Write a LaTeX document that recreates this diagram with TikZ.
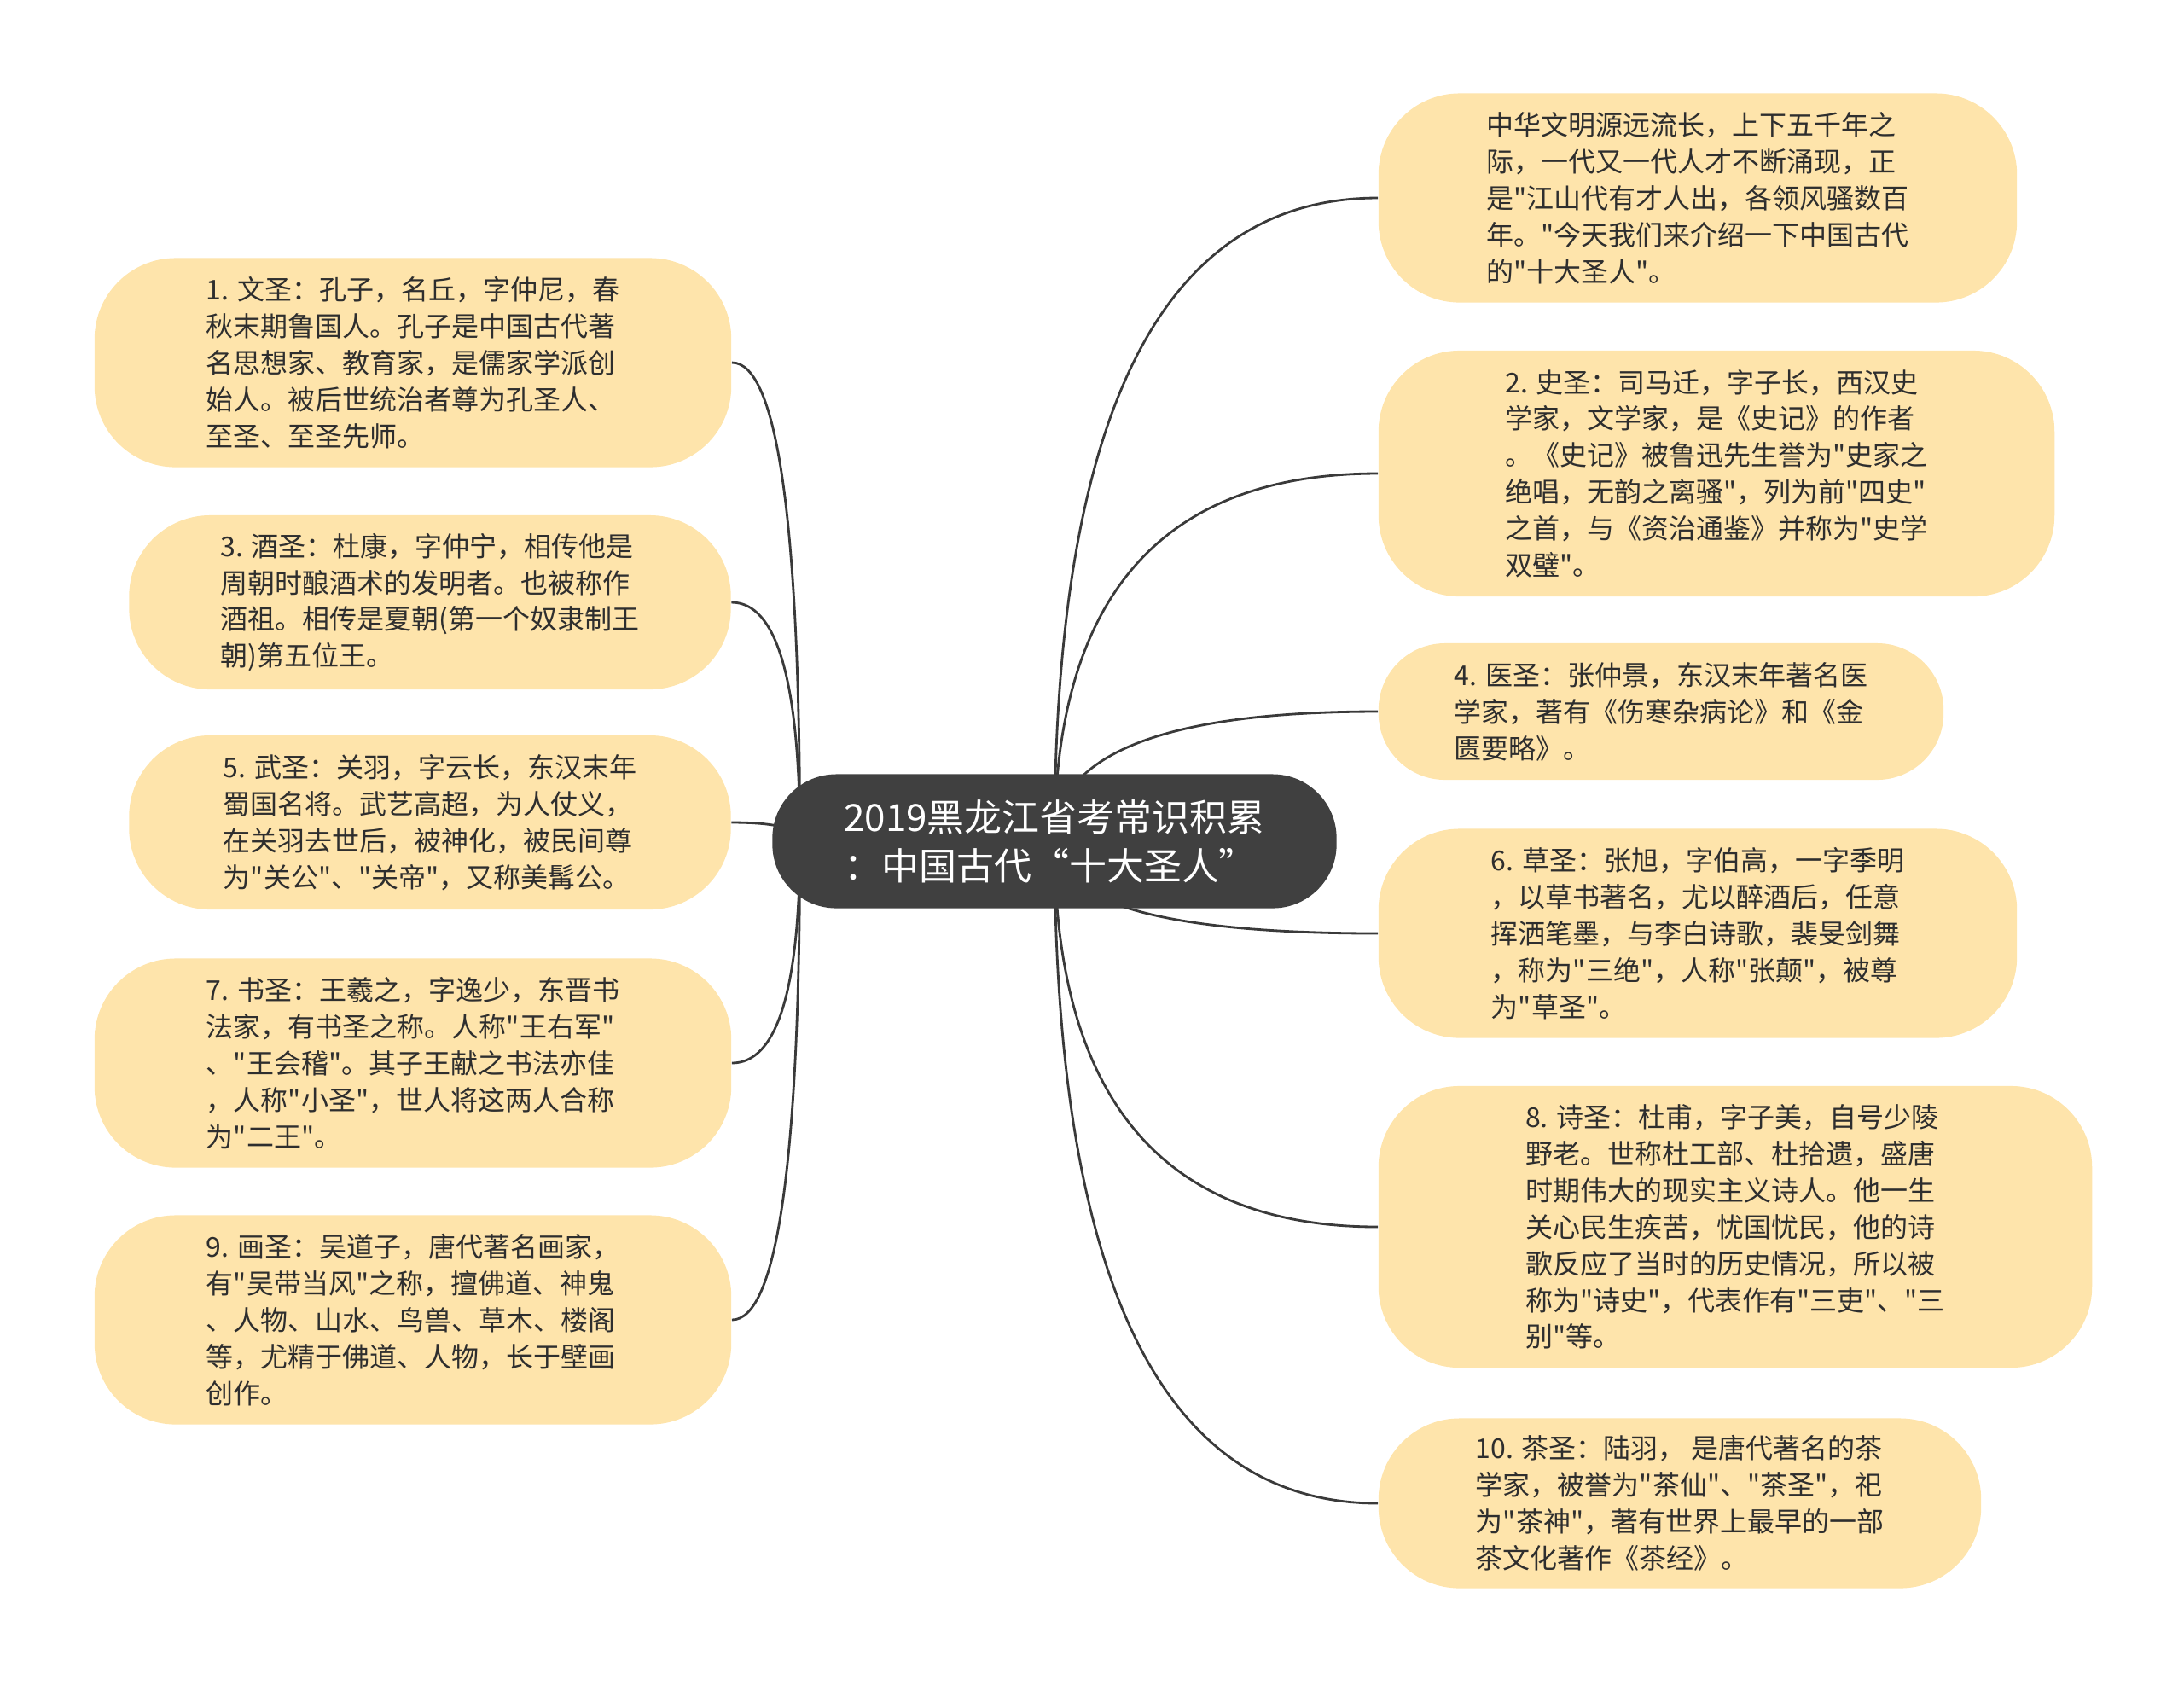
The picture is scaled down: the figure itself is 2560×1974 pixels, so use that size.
\documentclass[tikz,border=0pt]{standalone}
\usepackage{fontspec}
\setmainfont{Noto Sans CJK SC}[Ligatures=TeXOff]
\usetikzlibrary{calc, backgrounds}
\definecolor{leafbg}{HTML}{FEE4AB}
\definecolor{rootbg}{HTML}{404040}
\definecolor{linkgray}{HTML}{3A3A3A}
\definecolor{inkgray}{HTML}{2E2E2E}

\begin{document}
\begin{tikzpicture}[
    x=0.01cm, y=-0.01cm,
    every node/.append style={font=\fontsize{9.1pt}{12.2pt}\selectfont},
    leaf/.style={rectangle, rounded corners=0.95cm, fill=leafbg, text=inkgray,
                 align=left, inner sep=0pt},
    wbox/.style={leaf, minimum width=7.46cm, minimum height=2.45cm},
    nbox/.style={leaf, minimum width=7.05cm, minimum height=2.04cm},
    root/.style={rectangle, rounded corners=0.75cm, fill=rootbg, text=white,
                 align=left, minimum width=6.61cm, minimum height=1.57cm,
                 font=\fontsize{12.5pt}{16.2pt}\selectfont},
    link/.style={draw=linkgray, line width=0.8pt},
  ]
  \useasboundingbox (0,0) rectangle (2560,1974);

  \node[root] (ROOT) at (1236,986) {2019黑龙江省考常识积累\\：中国古代“十大圣人”};

  % left column
  \node[wbox] (WEN) at (484,425) {1. 文圣：孔子，名丘，字仲尼，春\\秋末期鲁国人。孔子是中国古代著\\名思想家、教育家，是儒家学派创\\始人。被后世统治者尊为孔圣人、\\至圣、至圣先师。};
  \node[nbox] (JIU) at (504,706) {3. 酒圣：杜康，字仲宁，相传他是\\周朝时酿酒术的发明者。也被称作\\酒祖。相传是夏朝(第一个奴隶制王\\朝)第五位王。};
  \node[nbox] (WU) at (504,964) {5. 武圣：关羽，字云长，东汉末年\\蜀国名将。武艺高超，为人仗义，\\在关羽去世后，被神化，被民间尊\\为"关公"、"关帝"，又称美髯公。};
  \node[wbox] (SHU) at (484,1246) {7. 书圣：王羲之，字逸少，东晋书\\法家，有书圣之称。人称"王右军"\\、"王会稽"。其子王献之书法亦佳\\，人称"小圣"，世人将这两人合称\\为"二王"。};
  \node[wbox] (HUA) at (484,1547) {9. 画圣：吴道子，唐代著名画家，\\有"吴带当风"之称，擅佛道、神鬼\\、人物、山水、鸟兽、草木、楼阁\\等，尤精于佛道、人物，长于壁画\\创作。};

  % right column
  \node[wbox, minimum width=7.48cm] (INTRO) at (1990,232) {中华文明源远流长，上下五千年之\\际，一代又一代人才不断涌现，正\\是"江山代有才人出，各领风骚数百\\年。"今天我们来介绍一下中国古代\\的"十大圣人"。};
  \node[leaf, minimum width=7.92cm, minimum height=2.88cm] (SHI) at (2012,555) {2. 史圣：司马迁，字子长，西汉史\\学家，文学家，是《史记》的作者\\。《史记》被鲁迅先生誉为"史家之\\绝唱，无韵之离骚"，列为前"四史"\\之首，与《资治通鉴》并称为"史学\\双璧"。};
  \node[leaf, rounded corners=0.78cm, minimum width=6.62cm, minimum height=1.6cm] (YI) at (1947,834) {4. 医圣：张仲景，东汉末年著名医\\学家，著有《伤寒杂病论》和《金\\匮要略》。};
  \node[wbox, minimum width=7.48cm] (CAO) at (1990,1094) {6. 草圣：张旭，字伯高，一字季明\\，以草书著名，尤以醉酒后，任意\\挥洒笔墨，与李白诗歌，裴旻剑舞\\，称为"三绝"，人称"张颠"，被尊\\为"草圣"。};
  \node[leaf, minimum width=8.36cm, minimum height=3.3cm] (POE) at (2034,1438) {8. 诗圣：杜甫，字子美，自号少陵\\野老。世称杜工部、杜拾遗，盛唐\\时期伟大的现实主义诗人。他一生\\关心民生疾苦，忧国忧民，他的诗\\歌反应了当时的历史情况，所以被\\称为"诗史"，代表作有"三吏"、"三\\别"等。};
  \node[leaf, minimum width=7.06cm, minimum height=1.99cm] (CHA) at (1969,1762) {10. 茶圣：陆羽， 是唐代著名的茶\\学家，被誉为"茶仙"、"茶圣"，祀\\为"茶神"，著有世界上最早的一部\\茶文化著作《茶经》。};

  \coordinate (ROOTL) at ($(ROOT.west)+(33,0)$);

  \begin{scope}[on background layer]
    \foreach \leaf in {INTRO, SHI, YI, CAO, POE, CHA}
      \draw[link] (ROOT.center) .. controls ($(ROOT.center)!0.667!(ROOT.center |- \leaf.west)$)
        and ($(\leaf.west)!0.667!(ROOT.center |- \leaf.west)$) .. (\leaf.west);
    \foreach \leaf in {WEN, JIU, WU, SHU, HUA}
      \draw[link] (ROOTL) .. controls ($(ROOTL)!0.667!(ROOTL |- \leaf.east)$)
        and ($(\leaf.east)!0.667!(ROOTL |- \leaf.east)$) .. (\leaf.east);
  \end{scope}
\end{tikzpicture}
\end{document}
